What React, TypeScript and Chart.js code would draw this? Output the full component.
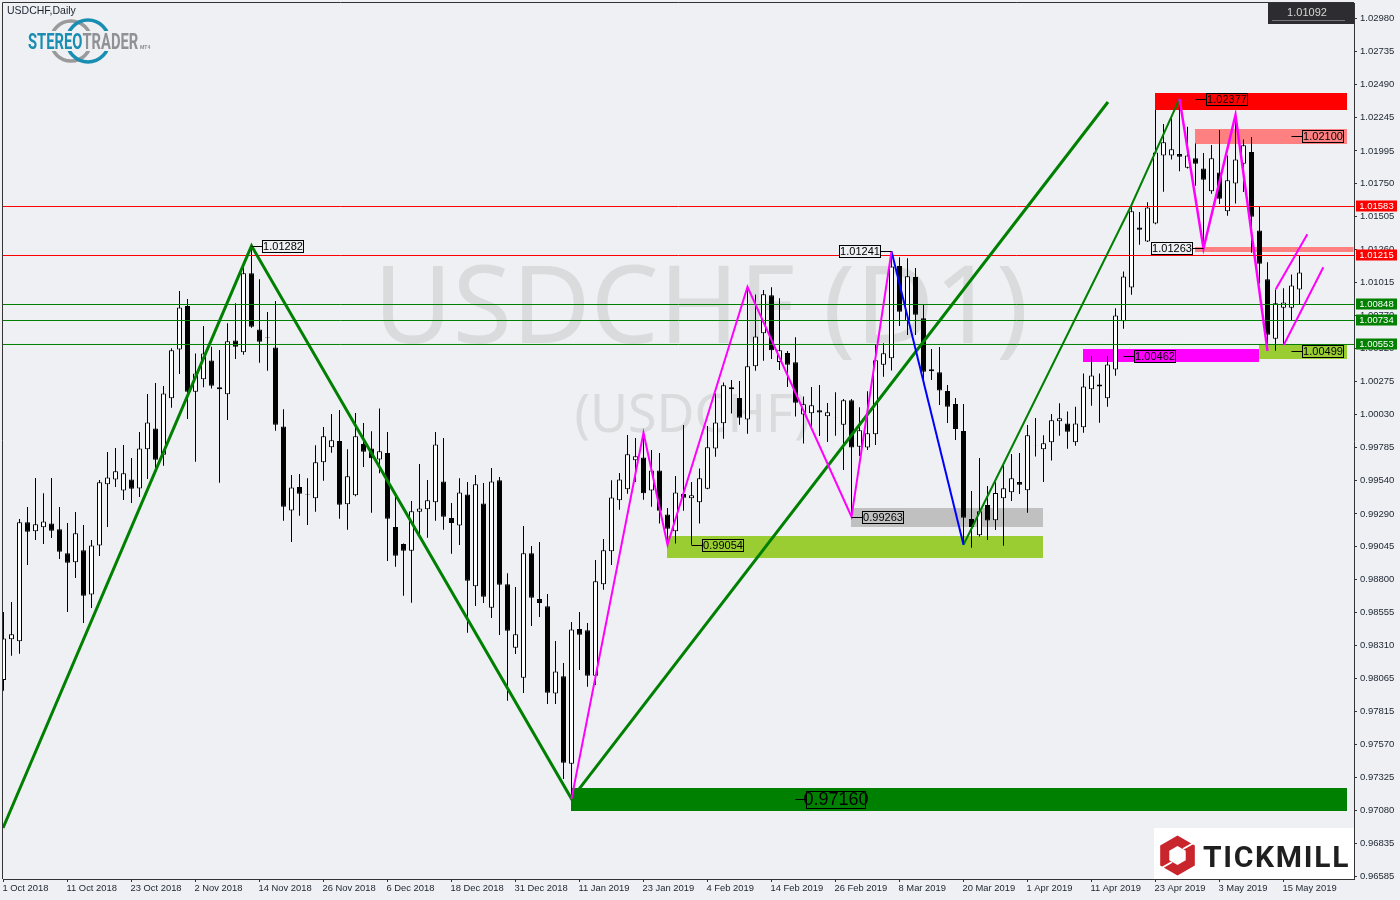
import React, { useEffect, useRef } from "react";
import { Chart, registerables } from "chart.js";

Chart.register(...registerables);

const BG = "#eef0f3";
const UI_FONT = "'Liberation Sans'";

const opens = [0.98046,0.98349,0.98334,0.99221,0.99154,0.99184,0.99213,0.99169,0.98990,0.98923,0.99012,0.98684,0.99049,0.99504,0.99541,0.99459,0.99541,0.99474,0.99765,0.99921,
0.99725,1.00145,1.00510,1.00833,1.00195,1.00287,1.00428,1.00212,1.00175,1.00577,1.00488,1.01077,1.00659,1.00600,1.00525,0.99936,0.99310,0.99484,0.99427,0.99400,
0.99668,0.99780,0.99827,0.99355,0.99422,0.99805,0.99772,0.99690,0.99737,0.99186,0.99059,0.99009,0.99300,0.99318,0.99370,0.99526,0.99253,0.99198,0.99429,0.98744,
0.99362,0.98585,0.99534,0.98759,0.98287,0.98063,0.98990,0.98649,0.98595,0.97946,0.98073,0.97422,0.98426,0.98416,0.98078,0.98759,0.99005,0.99385,0.99467,0.99683,
0.99705,0.99459,0.99608,0.99280,0.99154,0.99432,0.99400,0.99370,0.99472,0.99772,0.99959,1.00212,1.00147,0.99988,1.00384,1.00630,1.00913,1.00416,1.00483,1.00414,
1.00024,1.00034,1.00056,1.00011,1.00005,0.99949,1.00131,0.99785,0.99778,0.99877,1.00396,1.00444,1.01132,1.00722,1.01050,1.00742,1.00347,1.00339,1.00200,1.00103,
0.99902,0.99246,0.99124,0.99350,0.99236,0.99400,0.99445,0.99522,0.99460,0.99796,0.99765,0.99817,0.99974,0.99958,0.99817,0.99929,1.00212,1.00234,1.00145,1.00361,
1.00719,1.00972,1.01419,1.01315,1.01449,1.01956,1.01956,1.01966,1.01864,1.01934,1.01859,1.01688,1.01829,1.01539,1.01747,1.01894,1.01981,1.01397,1.01032,1.00590,
1.00821,1.00821,1.00957];
const highs = [0.98552,0.98627,0.99246,0.99335,0.99551,0.99437,0.99551,0.99335,0.99216,0.99298,0.99201,0.99089,0.99536,0.99745,0.99775,0.99797,0.99700,0.99894,1.00177,1.00259,
1.00237,1.00518,1.00945,1.00885,1.00480,1.00684,1.00530,1.00505,1.00704,1.00853,1.01126,1.01282,1.01032,1.00788,1.00870,1.00063,0.99573,0.99581,0.99549,0.99795,
0.99931,1.00028,1.00058,0.99765,1.00036,0.99961,0.99899,1.00070,0.99894,0.99412,0.99064,0.99380,0.99655,0.99536,0.99894,0.99849,0.99365,0.99549,0.99521,0.99574,
0.99514,0.99626,0.99559,0.98841,0.98739,0.99193,0.99044,0.99074,0.98687,0.98336,0.98172,0.98478,0.98552,0.98470,0.98940,0.99097,0.99534,0.99588,0.99872,0.99849,
0.99889,0.99760,0.99738,0.99328,0.99566,0.99946,0.99521,0.99623,0.99939,1.00182,1.00264,1.00282,1.00274,1.00977,1.00920,1.00953,1.00973,1.00891,1.00498,1.00600,
1.00158,1.00230,1.00245,1.00111,1.00190,1.00140,1.00140,1.00078,1.00198,1.00543,1.00555,1.01241,1.01196,1.01189,1.01117,1.00841,1.00513,1.00528,1.00245,1.00148,
1.00103,0.99455,0.99701,0.99492,0.99519,0.99656,0.99730,0.99738,0.99947,0.99999,0.99870,1.00029,1.00108,1.00048,1.00083,1.00331,1.00460,1.00331,1.00460,1.00816,
1.01091,1.01586,1.01534,1.01606,1.02294,1.02190,1.02232,1.02377,1.02170,1.02045,1.01973,1.02033,1.02145,1.01956,1.02257,1.02075,1.02093,1.01573,1.01159,1.00957,
1.00965,1.01069,1.01213];
const lows = [0.97966,0.98227,0.98242,0.98903,0.99089,0.99059,0.99104,0.98947,0.98552,0.98806,0.98470,0.98582,0.98970,0.99186,0.99484,0.99387,0.99365,0.99410,0.99544,0.99623,
0.99643,1.00075,1.00326,0.99991,0.99673,1.00227,1.00219,0.99516,0.99983,1.00438,1.00470,1.00672,1.00411,1.00351,0.99904,0.99233,0.99074,0.99270,0.99201,0.99300,
0.99531,0.99740,0.99248,0.99166,0.99415,0.99633,0.99293,0.99586,0.98932,0.98890,0.98674,0.98622,0.99114,0.99106,0.99233,0.99166,0.98987,0.99052,0.98398,0.98597,
0.98620,0.98508,0.98381,0.97892,0.98239,0.97949,0.98448,0.98515,0.97867,0.97867,0.97308,0.97160,0.98120,0.97996,0.98009,0.98719,0.98903,0.99315,0.99434,0.99521,
0.99390,0.99338,0.99213,0.99064,0.99064,0.99308,0.99054,0.99213,0.99467,0.99710,0.99844,1.00033,0.99949,0.99882,1.00351,1.00426,1.00439,1.00357,1.00230,1.00009,
0.99808,0.99922,0.99865,0.99820,0.99867,0.99611,0.99263,0.99716,0.99760,0.99798,1.00307,1.00352,1.00685,1.00617,1.00617,1.00282,1.00282,1.00096,0.99962,0.99835,
0.99054,0.99032,0.99115,0.99089,0.99164,0.99047,0.99380,0.99432,0.99293,0.99711,0.99522,0.99681,0.99867,0.99770,0.99792,0.99889,1.00090,0.99963,1.00083,1.00314,
1.00664,1.00918,1.01290,1.01310,1.01443,1.01685,1.01926,1.01837,1.01859,1.01730,1.01263,1.01670,1.01593,1.01506,1.01598,1.01683,1.01231,1.01002,1.00505,1.00500,
1.00542,1.00729,1.00845];
const closes = [0.98356,0.98386,0.99221,0.99151,0.99206,0.99228,0.99159,0.99002,0.98920,0.99139,0.98674,0.99049,0.99519,0.99556,0.99601,0.99586,0.99472,0.99772,0.99966,0.99688,
1.00182,1.00503,1.00823,1.00195,1.00331,1.00480,1.00239,1.00227,1.00570,1.00530,1.01077,1.00679,1.00567,1.00597,0.99949,0.99337,0.99481,0.99434,0.99431,0.99668,
0.99862,0.99832,0.99352,0.99564,0.99862,0.99747,0.99698,0.99750,0.99248,0.98972,0.99009,0.99303,0.99325,0.99385,0.99802,0.99263,0.99216,0.99444,0.98786,0.99504,
0.98667,0.99526,0.98756,0.98413,0.98386,0.98990,0.98659,0.98620,0.97951,0.98110,0.97430,0.98423,0.98384,0.98078,0.98781,0.99012,0.99407,0.99541,0.99728,0.99713,
0.99437,0.99608,0.99308,0.99174,0.99444,0.99405,0.99422,0.99549,0.99780,0.99966,1.00242,1.00227,1.00001,1.00384,1.00607,1.00921,1.00503,1.00503,1.00396,1.00113,
1.00101,1.00093,1.00039,1.00041,1.00003,1.00131,0.99778,0.99907,0.99885,1.00429,1.00481,1.01127,1.00791,1.01055,1.00769,1.00344,1.00362,1.00203,1.00083,0.99917,
0.99256,0.99186,0.99303,0.99234,0.99440,0.99475,0.99549,0.99502,0.99870,0.99794,0.99810,0.99981,0.99996,0.99896,0.99958,1.00234,1.00316,1.00249,1.00398,1.00763,
1.01054,1.01539,1.01402,1.01568,1.01978,1.02053,1.02001,1.01946,1.01956,1.01894,1.01775,1.01934,1.01633,1.01770,1.01926,1.02031,1.01499,1.01149,1.00619,1.00853,
1.00860,1.00987,1.01084];

const dateLabels = ["1 Oct 2018","11 Oct 2018","23 Oct 2018","2 Nov 2018","14 Nov 2018","26 Nov 2018","6 Dec 2018","18 Dec 2018","31 Dec 2018","11 Jan 2019","23 Jan 2019","4 Feb 2019","14 Feb 2019","26 Feb 2019","8 Mar 2019","20 Mar 2019","1 Apr 2019","11 Apr 2019","23 Apr 2019","3 May 2019","15 May 2019"];
const priceTicks = [1.0298,1.02735,1.0249,1.02245,1.01995,1.0175,1.01505,1.0126,1.01015,1.0077,1.0052,1.00275,1.0003,0.99785,0.9954,0.9929,0.99045,0.988,0.98555,0.9831,0.98065,0.97815,0.9757,0.97325,0.9708,0.96835,0.96585];

// Horizontal levels: drawn position, axis tag text, colour
const levelPrices = [1.01575,1.012098,1.008446,1.007253,1.005465];
const levelTexts = ["1.01583","1.01215","1.00848","1.00734","1.00553"];
const levelColors = ["#ff0000","#ff0000","#008000","#008000","#008000"];

// Zones: start bar, end bar, upper price, lower price, fill
const zoneStart = [144,149,149,106,83,135,157,71];
const zoneEnd = [168,168,168.8125,130,130,157,168,168];
const zoneTop = [1.024188,1.021527,1.012732,0.993278,0.991191,1.005129,1.005427,0.97241];
const zoneBottom = [1.022965,1.020409,1.012359,0.991862,0.989552,1.00416,1.004407,0.970695];
const zoneColors = ["#ff0000","#ff8080","#ff8080","#c0c0c0","#9acd32","#ff00ff","#9acd32","#008000"];

// Trend lines
const thickGreenX = [-0.0625,31,71,138.06];
const thickGreenY = [0.969427,1.01282,0.9716,1.023539];
const thinGreenX = [120,141,147];
const thinGreenY = [0.99054,1.01586,1.02377];
const pinkAX = [71,80,83,93,106,111];
const pinkAY = [0.9716,0.99889,0.99054,1.00977,0.99263,1.01241];
const blueX = [111,120];
const blueY = [1.01241,0.99054];
const pinkBX = [147,150,154,158];
const pinkBY = [1.02377,1.01263,1.02257,1.00499];
const channelAX = [159.03,162.98];
const channelAY = [1.009579,1.013678];
const channelBX = [160.03,164.98];
const channelBY = [1.005427,1.011219];

// Price tags with leader
const tagTexts = ["1.01282","1.01241","0.99263","0.99054","1.01263","1.00462","1.02377","1.02100","1.00499","0.97160"];
const tagBars = [31,111,106,86,150,140,149,161,161,99];
const tagPrices = [1.01282,1.01241,0.99263,0.99054,1.01263,1.00462,1.02377,1.021,1.00499,0.9716];
const tagSides = [1,-1,1,1,-1,1,1,1,1,1];
const tagFills = [BG,BG,null,null,BG,null,null,null,null,null];

// The labelled axis ticks sit a fraction of a pixel below their nominal price.
const TICK_NUDGE = 0.00006;

const lineData = (xs: number[], ys: number[]) => xs.map((x, i) => ({ x, y: ys[i] }));

const trend = (xs: number[], ys: number[], color: string, width: number, order: number) => ({
  type: "line" as const,
  data: lineData(xs, ys),
  borderColor: color,
  borderWidth: width,
  pointRadius: 0,
  tension: 0,
  order,
});

const backdrop = {
  id: "backdrop",
  beforeDraw(chart: any) {
    const { ctx, width, height } = chart;
    ctx.save();
    ctx.fillStyle = BG;
    ctx.fillRect(0, 0, width, height);
    ctx.restore();
  },
  beforeDatasetsDraw(chart: any) {
    const { ctx, scales } = chart;
    ctx.save();
    ctx.fillStyle = "#d9dbdc";
    ctx.textBaseline = "alphabetic";
    ctx.textAlign = "center";
    ctx.font = "108px 'Noto Sans'";
    ctx.fillText("USDCHF (D1)", 701, 343);
    ctx.font = "52px 'Noto Sans'";
    ctx.fillText("(USDCHF)", 692, 432);
    zoneColors.forEach((c, i) => {
      const x1 = scales.x.getPixelForValue(zoneStart[i]) - 0.5;
      const x2 = scales.x.getPixelForValue(zoneEnd[i]) - 0.5;
      const y1 = Math.round(scales.y.getPixelForValue(zoneTop[i]));
      const y2 = Math.round(scales.y.getPixelForValue(zoneBottom[i]));
      ctx.fillStyle = c;
      ctx.fillRect(x1, y1, x2 - x1, y2 - y1);
    });
    ctx.restore();
  },
  afterDatasetsDraw(chart: any) {
    const { ctx, scales, chartArea } = chart;
    ctx.save();
    // plot frame (top and left)
    ctx.strokeStyle = "#333333";
    ctx.lineWidth = 1;
    ctx.beginPath();
    ctx.moveTo(2.5, chartArea.bottom);
    ctx.lineTo(2.5, 2.5);
    ctx.lineTo(chartArea.right, 2.5);
    ctx.stroke();

    // Tags with leaders
    tagTexts.forEach((t, i) => {
      const big = t === "0.97160";
      const px = Math.round(scales.x.getPixelForValue(tagBars[i]) - 0.5) + 0.5;
      const py = Math.round(scales.y.getPixelForValue(tagPrices[i])) + 0.5;
      const w = big ? 59 : 41;
      const h = big ? 17 : 12;
      const lead = 11;
      const left = tagSides[i] > 0 ? px + lead : px - lead - w;
      ctx.strokeStyle = "#000";
      ctx.lineWidth = 1;
      ctx.beginPath();
      ctx.moveTo(px, py);
      ctx.lineTo(px + tagSides[i] * lead, py);
      ctx.stroke();
      const top = Math.floor(py - h / 2) + 0.5;
      const fill = tagFills[i];
      if (fill) {
        ctx.fillStyle = fill;
        ctx.fillRect(left, top, w, h);
      }
      ctx.strokeRect(left, top, w, h);
      ctx.fillStyle = "#000";
      ctx.font = (big ? "18px " : "11px ") + UI_FONT;
      ctx.textAlign = "center";
      ctx.textBaseline = "middle";
      ctx.fillText(t, left + w / 2, top + h / 2 + 0.5);
    });

    // Axis tags for the levels
    levelTexts.forEach((t, i) => {
      const py = Math.round(scales.y.getPixelForValue(levelPrices[i]) - 0.5) + 0.5;
      ctx.fillStyle = levelColors[i];
      ctx.fillRect(1356, py - 6, 41, 11);
      ctx.fillStyle = "#fff";
      ctx.font = "9.5px " + UI_FONT;
      ctx.textAlign = "center";
      ctx.textBaseline = "middle";
      ctx.fillText(t, 1376.5, py);
    });

    // Current price box
    ctx.fillStyle = "#2d2c30";
    ctx.fillRect(1268, 3, 86, 21);
    ctx.strokeStyle = "#77777a";
    ctx.beginPath();
    ctx.moveTo(1272, 20.5);
    ctx.lineTo(1345, 20.5);
    ctx.stroke();
    ctx.fillStyle = "#d8d8d8";
    ctx.font = "11px " + UI_FONT;
    ctx.textAlign = "center";
    ctx.textBaseline = "middle";
    ctx.fillText("1.01092", 1307, 13);

    // Title
    ctx.fillStyle = "#1c2430";
    ctx.font = "10.5px " + UI_FONT;
    ctx.textAlign = "left";
    ctx.textBaseline = "middle";
    ctx.fillText("USDCHF,Daily", 7, 11);

    // StereoTrader logo
    ctx.lineWidth = 3.5;
    ctx.strokeStyle = "#9a9a9a";
    ctx.beginPath();
    ctx.arc(71, 41, 20, 0, Math.PI * 2);
    ctx.stroke();
    ctx.strokeStyle = "#1a8db3";
    ctx.beginPath();
    ctx.arc(88, 41, 21, 0, Math.PI * 2);
    ctx.stroke();
    ctx.fillStyle = BG;
    ctx.fillRect(26, 31, 115, 20);
    ctx.textBaseline = "alphabetic";
    ctx.textAlign = "left";
    ctx.save();
    ctx.translate(28, 49);
    ctx.scale(0.67, 1);
    ctx.font = "bold 22px Roboto";
    ctx.fillStyle = "#1a8db3";
    ctx.fillText("STEREO", 0, 0);
    const sw = ctx.measureText("STEREO").width;
    ctx.fillStyle = "#8f9194";
    ctx.fillText("TRADER", sw, 0);
    ctx.restore();
    ctx.fillStyle = "#8f9194";
    ctx.font = "bold 5px Roboto";
    ctx.fillText("MT4", 140, 49);

    // Tickmill logo
    ctx.fillStyle = "#ffffff";
    ctx.fillRect(1154, 828, 200, 51);
    const hex = (cx: number, cy: number, r: number) => {
      ctx.beginPath();
      for (let k = 0; k < 6; k++) {
        const a = Math.PI / 6 + (k * Math.PI) / 3;
        const x = cx + r * Math.cos(a);
        const y = cy + r * Math.sin(a);
        if (k === 0) ctx.moveTo(x, y);
        else ctx.lineTo(x, y);
      }
      ctx.closePath();
    };
    ctx.fillStyle = "#c9252c";
    hex(1177.5, 855.5, 20);
    ctx.fill();
    ctx.fillStyle = "#ffffff";
    hex(1177.5, 855.5, 9.5);
    ctx.fill();
    ctx.strokeStyle = "#ffffff";
    ctx.lineWidth = 2;
    ctx.beginPath();
    ctx.moveTo(1183, 849);
    ctx.lineTo(1197, 841);
    ctx.moveTo(1172, 862);
    ctx.lineTo(1158, 870);
    ctx.stroke();
    ctx.fillStyle = "#1f1f1f";
    ctx.font = "bold 30px Roboto";
    (ctx as any).letterSpacing = "1.7px";
    ctx.textAlign = "left";
    ctx.textBaseline = "alphabetic";
    ctx.fillText("TICKMILL", 1203, 867);
    (ctx as any).letterSpacing = "0px";
    ctx.restore();
  },
};

export default function App() {
  const ref = useRef<HTMLCanvasElement | null>(null);
  useEffect(() => {
    if (!ref.current) return;
    const bars = opens.map((_, i) => i);
    const chart = new Chart(ref.current, {
      type: "bar",
      data: {
        datasets: [
          ...levelPrices.map((p, i) =>
            trend([-0.0625, 168.8125], [p, p], levelColors[i], 1, 3)
          ),
          trend(thickGreenX, thickGreenY, "#008000", 3, 2),
          trend(thinGreenX, thinGreenY, "#008000", 2, 2),
          trend(pinkAX, pinkAY, "#ff00ff", 2, 1),
          trend(blueX, blueY, "#0000ff", 2, 1),
          trend(pinkBX, pinkBY, "#ff00ff", 2.5, 1),
          trend(channelAX, channelAY, "#ff00ff", 2, 1),
          trend(channelBX, channelBY, "#ff00ff", 2, 1),
          {
            type: "bar",
            data: bars.map((i) => ({ x: i, y: [lows[i], highs[i]] })),
            backgroundColor: "#000000",
            borderWidth: 0,
            barThickness: 1,
            grouped: false,
            inflateAmount: 0,
            order: 6,
          },
          {
            type: "bar",
            data: bars.map((i) => ({ x: i, y: [opens[i], closes[i]] })),
            backgroundColor: bars.map((i) => (closes[i] >= opens[i] ? "#ffffff" : "#000000")),
            borderColor: "#000000",
            borderWidth: 1,
            borderSkipped: false,
            barThickness: 5,
            grouped: false,
            inflateAmount: 0,
            order: 5,
          },
        ] as any,
      },
      options: {
        responsive: false,
        animation: false,
        devicePixelRatio: 1,
        layout: { padding: { left: 3, top: 3, right: 0, bottom: 0 } },
        plugins: { legend: { display: false }, tooltip: { enabled: false }, title: { display: false } },
        scales: {
          x: {
            type: "linear",
            offset: false,
            min: -0.0625,
            max: 168.8125,
            afterBuildTicks: (s: any) => {
              s.ticks = dateLabels.map((_, i) => ({ value: i * 8 }));
            },
            afterFit: (s: any) => {
              s.height = 21;
              s.paddingLeft = 0;
              s.paddingRight = 0;
            },
            ticks: {
              autoSkip: false,
              maxRotation: 0,
              align: "start",
              padding: 1,
              labelOffset: -1,
              color: "#1c2430",
              font: { family: "Liberation Sans", size: 9.4 },
              callback: (v: any) => dateLabels[Math.round(Number(v) / 8)] ?? "",
            },
            grid: { offset: false, drawOnChartArea: false, drawTicks: true, tickLength: 3, tickColor: "#333333" },
            border: { display: true, color: "#333333", width: 1 },
          },
          y: {
            type: "linear",
            position: "right",
            min: 0.96562623,
            max: 1.03091801,
            afterBuildTicks: (s: any) => {
              s.ticks = priceTicks.map((v) => ({ value: v - TICK_NUDGE }));
            },
            afterFit: (s: any) => {
              s.width = 46;
              s.paddingTop = 0;
              s.paddingBottom = 0;
            },
            ticks: {
              autoSkip: false,
              padding: 3,
              color: "#1c2430",
              font: { family: "Liberation Sans", size: 9.5 },
              callback: (_v: any, i: number) => priceTicks[i].toFixed(5),
            },
            grid: { drawOnChartArea: false, drawTicks: true, tickLength: 3, tickColor: "#333333" },
            border: { display: true, color: "#333333", width: 1 },
          },
        },
      } as any,
      plugins: [backdrop],
    });
    return () => chart.destroy();
  }, []);
  return (
    <div style={{ position: "fixed", inset: 0, overflow: "hidden" }}>
      <canvas ref={ref} width={1400} height={900} style={{ display: "block" }} />
    </div>
  );
}
